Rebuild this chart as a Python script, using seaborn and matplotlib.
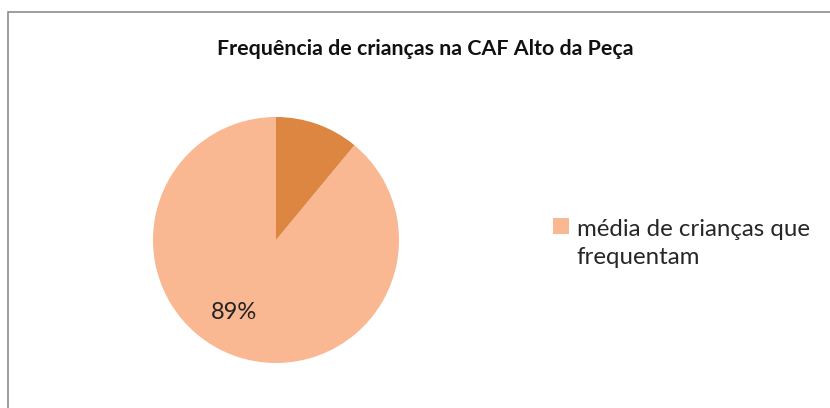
import matplotlib
matplotlib.use("Agg")
import matplotlib.pyplot as plt
import seaborn as sns
import numpy as np
from matplotlib.patches import Rectangle
from matplotlib.legend_handler import HandlerPatch

sns.set_theme(style="white")
plt.rcParams['font.family'] = ['Lato', 'DejaVu Sans']

title = "Frequência de crianças na CAF Alto da Peça"
categories = ["média de crianças que\nfrequentam", "outras"]
values = [89, 11]
colors = ["#F9B792", "#DC8641"]
shown_labels = ["89%", ""]

W, H = 830, 408
fig = plt.figure(figsize=(W / 100, H / 100), dpi=100)
fig.patch.set_facecolor("white")

# chart border (extends beyond the right/bottom edges as in the reference)
fig.patches.append(Rectangle((8 / W, -0.1), 1.2, (H - 12) / H + 0.1,
                             transform=fig.transFigure, fill=False,
                             edgecolor="#8c8c8c", linewidth=1.2))

cx, cy, r = 276, 240, 123
ax = fig.add_axes([(cx - r) / W, (H - cy - r) / H, 2 * r / W, 2 * r / H])
wedges, _ = ax.pie(values, colors=colors, startangle=90, counterclock=True,
                   radius=1, wedgeprops=dict(linewidth=0))
for w, lab in zip(wedges, shown_labels):
    if lab:
        ang = np.deg2rad((w.theta1 + w.theta2) / 2 - 10)
        ax.text(0.68 * np.cos(ang), 0.68 * np.sin(ang), lab, ha="center",
                va="center", fontsize=17, color="#222222")
ax.set_xlim(-1, 1)
ax.set_ylim(-1, 1)
ax.set_aspect("equal")
ax.axis("off")

fig.text(425 / W, 1 - 49 / H, title, ha="center", va="center",
         fontsize=15.4, fontweight="bold", color="#111111")


class FirstLineHandler(HandlerPatch):
    """Square legend key aligned with the first line of a two-line label."""
    def __init__(self, shift):
        super().__init__()
        self.shift = shift

    def create_artists(self, legend, orig_handle, xdescent, ydescent,
                       width, height, fontsize, trans):
        arts = super().create_artists(legend, orig_handle, xdescent, ydescent,
                                      width, height, fontsize, trans)
        for a in arts:
            a.set_y(a.get_y() + self.shift)
        return arts


leg = fig.legend(handles=[wedges[0]], labels=[categories[0]], loc="upper left",
                 bbox_to_anchor=(541 / W, 1 - 207 / H), frameon=False,
                 fontsize=17.3, handlelength=0.68, handleheight=0.68,
                 handletextpad=0.3, labelspacing=0.3, borderpad=0.0,
                 handler_map={wedges[0]: FirstLineHandler(12.5)})
for t in leg.get_texts():
    t.set_linespacing(1.4)

fig.savefig("out.png", dpi=100)
